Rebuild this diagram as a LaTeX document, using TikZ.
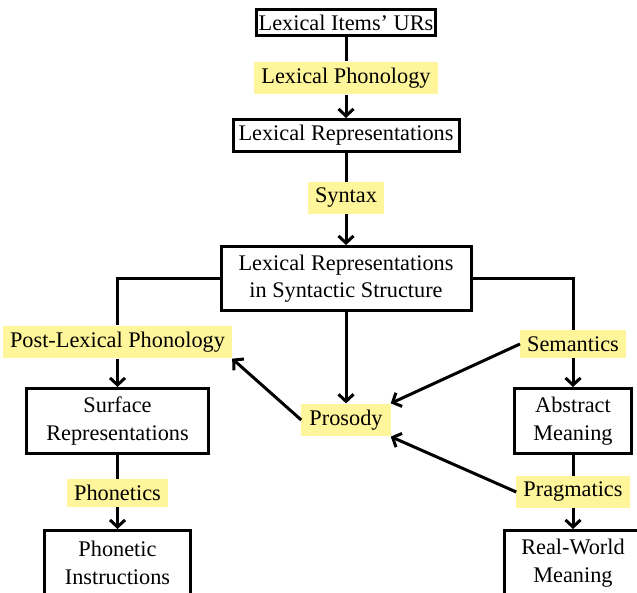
\documentclass[tikz,border=0pt]{standalone}
\usepackage{fontspec}
\setmainfont{Liberation Serif}
\usetikzlibrary{arrows.meta}
\definecolor{labyellow}{HTML}{FFF59A}
\begin{document}
\begin{tikzpicture}[x=1pt,y=-1pt,
  font=\fontsize{22.3}{27.5}\selectfont,
  >={Straight Barb[length=7pt,width=15pt]},
  conn/.style={line width=3pt},
  arr/.style={line width=3pt,->},
  stagebox/.style={draw,line width=3pt,inner sep=2pt,align=center,fill=white},
  procname/.style={fill=labyellow,inner xsep=7pt,inner ysep=6.3pt}]
\useasboundingbox (0,0) rectangle (637,593);
% boxes
\node[stagebox,minimum width=177pt,minimum height=26pt] (b1) at (346,22.5) {Lexical Items’ URs};
\node[stagebox,minimum width=226pt,minimum height=32pt] (b2) at (346,135.5) {Lexical Representations};
\node[stagebox,minimum width=250pt,minimum height=64pt] (b3) at (346,278.5) {Lexical Representations\\in Syntactic Structure};
\node[stagebox,minimum width=182pt,minimum height=65pt] (surf) at (117.5,421) {Surface\\Representations};
\node[stagebox,minimum width=146pt,minimum height=65pt] (phi) at (117.5,563) {Phonetic\\Instructions};
\node[stagebox,minimum width=117pt,minimum height=65pt] (abs) at (573,421) {Abstract\\Meaning};
\node[stagebox,minimum width=137pt,minimum height=65pt] (rwm) at (573,563) {Real-World\\Meaning};
% process labels
\node[procname] (lp) at (346,78) {Lexical Phonology};
\node[procname] (syn) at (346,198) {Syntax};
\node[procname] (plp) at (117.5,342) {Post-Lexical Phonology};
\node[procname] (phon) at (117.5,493) {Phonetics};
\node[procname] (sem) at (573,344) {Semantics};
\node[procname] (prag) at (573,492) {Pragmatics};
\node[procname,inner xsep=8pt] (pros) at (346,420) {Prosody};
% connectors
\draw[conn] (b1) -- (lp);
\draw[arr] (lp) -- (b2);
\draw[conn] (b2) -- (syn);
\draw[arr] (syn) -- (b3);
\draw[conn] (b3.west) -| (plp);
\draw[arr] (plp) -- (surf);
\draw[conn] (surf) -- (phon);
\draw[arr] (phon) -- (phi);
\draw[conn] (b3.east) -| (sem);
\draw[arr] (sem) -- (abs);
\draw[conn] (abs) -- (prag);
\draw[arr] (prag) -- (rwm);
\draw[arr] (b3) -- (pros);
\draw[arr] (sem.west) -- (pros.north east);
\draw[arr] (prag.west) -- (pros.south east);
\draw[arr] (pros.west) -- (plp.south east);
\end{tikzpicture}
\end{document}
